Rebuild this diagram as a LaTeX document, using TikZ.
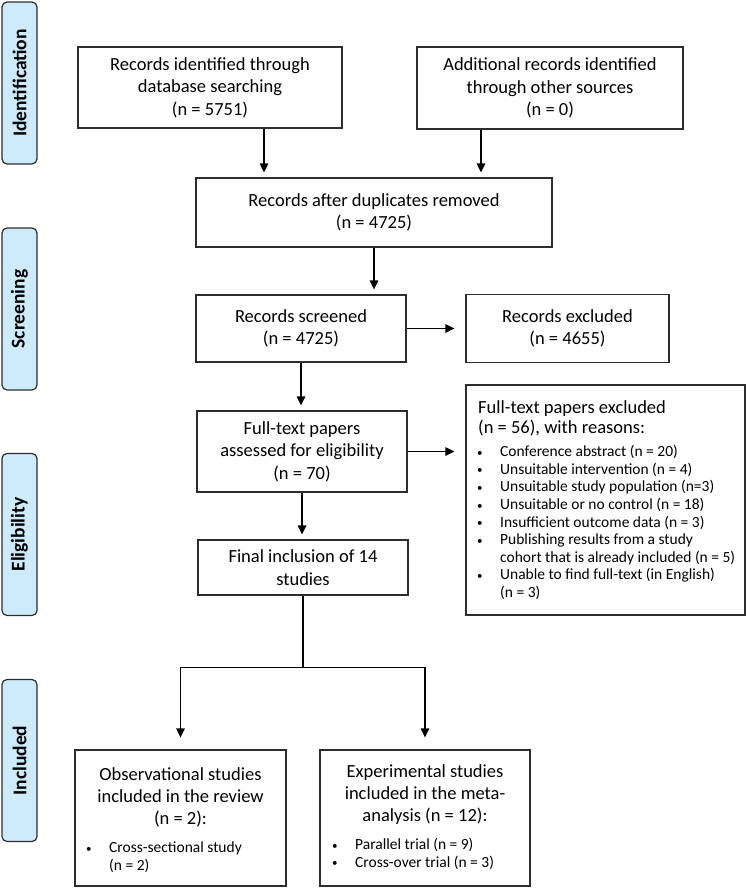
\documentclass[tikz,border=0pt]{standalone}
\usepackage{fontspec}
\setmainfont{Carlito}
\usetikzlibrary{arrows.meta, positioning, calc}
\definecolor{phaseblue}{RGB}{206,235,252}
\definecolor{edgegray}{RGB}{45,45,45}
\newcommand{\bulletrow}[1]{\makebox[23pt][l]{\raisebox{0.5pt}{\fontsize{11}{11}\selectfont\textbullet}}#1}
\newcommand{\hangrow}[1]{\hspace*{23pt}#1}

\begin{document}
\begin{tikzpicture}[x=1pt, y=-1pt, >=Stealth,
  box/.style={draw=edgegray, line width=1.2pt, align=center, inner sep=0pt,
    font=\fontsize{18.5}{22.5}\selectfont},
  phase/.style={draw=edgegray, fill=phaseblue, line width=1.2pt, rounded corners=5pt,
    rotate=90, minimum width=162pt, minimum height=35pt, inner sep=0pt,
    font=\fontsize{19.5}{22}\selectfont\bfseries},
  arr/.style={-{Triangle[length=9pt, width=8.5pt]}, line width=1.2pt},
  headtext/.style={align=center, inner sep=0pt, font=\fontsize{18.5}{22}\selectfont},
  smalllist/.style={align=left, inner sep=0pt, font=\fontsize{15.5}{17.6}\selectfont}]
  \useasboundingbox (0,0) rectangle (746,889);

  % Phase labels down the left side
  \node[phase] (ident) at (19.5, 83) {Identification};
  \node[phase] (screen) at (19.5, 309) {Screening};
  \node[phase] (elig) at (19.5, 534.5) {Eligibility};
  \node[phase] (incl) at (19.5, 760.5) {Included};

  % Identification
  \node[box, minimum width=264pt, minimum height=81pt] (db) at (210, 87.5)
    {Records identified through\\database searching\\(n = 5751)};
  \node[box, minimum width=266pt, minimum height=82pt] (other) at (550, 88)
    {Additional records identified\\through other sources\\(n = 0)};
  \node[box, minimum width=356pt, minimum height=69pt] (dup) at (374, 212.5)
    {Records after duplicates removed\\(n = 4725)};

  % Screening
  \node[box, minimum width=210pt, minimum height=67pt] (scr) at (301, 328.5)
    {Records screened\\(n = 4725)};
  \node[box, minimum width=203pt, minimum height=68pt] (exc) at (567.5, 328.5)
    {Records excluded\\(n = 4655)};

  % Eligibility
  \node[box, minimum width=210pt, minimum height=81pt] (full) at (302, 451.5)
    {Full-text papers\\assessed for eligibility\\(n = 70)};
  \node[box, minimum width=279pt, minimum height=230pt] (why) at (605.5, 500) {};
  \node[headtext, align=left, font=\fontsize{18.5}{20}\selectfont, anchor=west] (whyhead) at (478, 418)
    {Full-text papers excluded\\(n = 56), with reasons:};
  \node[smalllist, anchor=west] (whylist) at (477, 522.5)
    {\bulletrow{Conference abstract (n = 20)}\\
     \bulletrow{Unsuitable intervention (n = 4)}\\
     \bulletrow{Unsuitable study population (n=3)}\\
     \bulletrow{Unsuitable or no control (n = 18)}\\
     \bulletrow{Insufficient outcome data (n = 3)}\\
     \bulletrow{Publishing results from a study}\\
     \hangrow{cohort that is already included (n = 5)}\\
     \bulletrow{Unable to find full-text (in English)}\\
     \hangrow{(n = 3)}};
  \node[box, minimum width=210pt, minimum height=55pt] (fin) at (303, 567.5)
    {Final inclusion of 14\\studies};

  % Included
  \node[box, minimum width=211pt, minimum height=136pt] (obs) at (180.5, 818) {};
  \node[headtext] (obshead) at (180.5, 797) {Observational studies\\included in the review\\(n = 2):};
  \node[smalllist, anchor=west] (obslist) at (86, 857) {\bulletrow{Cross-sectional study}\\\hangrow{(n = 2)}};
  \node[box, minimum width=210pt, minimum height=136pt] (exp) at (425, 818) {};
  \node[headtext] (exphead) at (425, 795) {Experimental studies\\included in the meta-\\analysis (n = 12):};
  \node[smalllist, anchor=west] (explist) at (332, 854) {\bulletrow{Parallel trial (n = 9)}\\\bulletrow{Cross-over trial (n = 3)}};

  % Flow arrows
  \draw[arr, shorten >=5pt] ([xshift=54pt]db.south) -- ([xshift=54pt]db.south |- dup.north);
  \draw[arr, shorten >=5pt] ([xshift=-69pt]other.south) -- ([xshift=-69pt]other.south |- dup.north);
  \draw[arr, shorten >=5pt] (dup.south) -- (dup.south |- scr.north);
  \draw[arr, shorten >=11pt] (scr.east) -- (exc.west);
  \draw[arr, shorten >=5pt] (scr.south) -- (scr.south |- full.north);
  \draw[arr, shorten >=11pt] (full.east) -- (full.east -| why.west);
  \draw[arr, shorten >=5pt] (full.south) -- (full.south |- fin.north);

  % Split into the two study groups
  \path (fin.south) ++(0,72) coordinate (split);
  \draw[line width=1.2pt] (fin.south) -- (split);
  \draw[arr, shorten >=12pt] (split) -| (obs.north);
  \draw[arr, shorten >=12pt] (split) -| (exp.north);
\end{tikzpicture}
\end{document}
